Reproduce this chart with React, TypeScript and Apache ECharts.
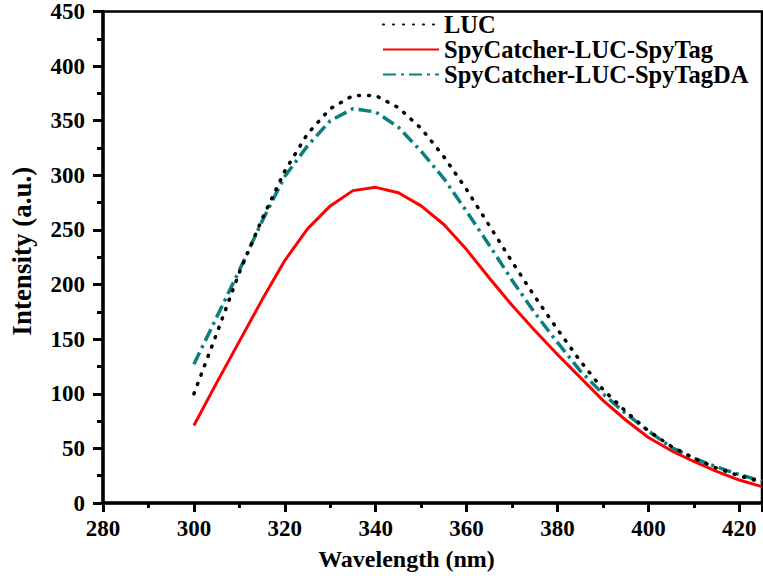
import React, { useEffect, useRef } from "react";
import * as echarts from "echarts";

const wavelengths = [300, 305, 310, 315, 320, 325, 330, 335, 340, 345, 350, 355, 360, 365, 370, 375, 380, 385, 390, 395, 400, 405, 410, 415, 420, 425];
const lucValues = [100, 155, 211, 260, 304, 338, 361, 373, 373, 362, 343, 317, 287, 254, 221, 189, 159, 130, 104, 84, 66, 52, 41, 32, 25, 19];
const spyTagValues = [71, 110, 148, 186, 222, 251, 272, 286, 289, 284, 272, 255, 232, 206, 181, 158, 136, 115, 94, 76, 60, 48, 38, 29, 21, 15];
const spyTagDAValues = [127, 170, 213, 258, 299, 327, 350, 361, 358, 344, 322, 297, 267, 236, 204, 174, 147, 121, 100, 82, 66, 51, 41, 33, 26, 20];
const seriesNames = ["LUC", "SpyCatcher-LUC-SpyTag", "SpyCatcher-LUC-SpyTagDA"];

const FONT = "'Times New Roman', 'Liberation Serif', serif";

export default function App() {
  const ref = useRef<HTMLDivElement>(null);
  useEffect(() => {
    if (!ref.current) return;
    const chart = echarts.init(ref.current, null, { renderer: "svg" });
    const pairs = (vals: number[]) => wavelengths.map((w, i) => [w, vals[i]]);
    const textBase = { fontFamily: FONT, fontWeight: "bold" as const, color: "#000" };
    chart.setOption({
      animation: false,
      grid: {
        left: 99,
        right: 1,
        top: 11,
        bottom: 78,
        show: true,
        borderColor: "#000",
        borderWidth: 2.5,
      },
      legend: {
        orient: "vertical",
        left: 377,
        top: 7,
        itemWidth: 56,
        itemHeight: 14,
        itemGap: 0,
        itemStyle: { opacity: 0 },
        textStyle: { ...textBase, fontSize: 24.5, lineHeight: 20 },
        data: seriesNames,
      },
      xAxis: {
        type: "value",
        min: 280,
        max: 425,
        interval: 20,
        name: "Wavelength (nm)",
        nameLocation: "middle",
        nameGap: 44,
        nameTextStyle: { ...textBase, fontSize: 24, padding: [0, 52, 0, 0] },
        axisLine: { lineStyle: { color: "#000", width: 3.5 } },
        axisTick: { inside: false, length: 9, lineStyle: { color: "#000", width: 3 } },
        minorTick: { show: true, splitNumber: 2, length: 5, lineStyle: { color: "#000", width: 3 } },
        axisLabel: { ...textBase, fontSize: 23, margin: 14, showMaxLabel: false },
        splitLine: { show: false },
      },
      yAxis: {
        type: "value",
        min: 0,
        max: 450,
        interval: 50,
        name: "Intensity (a.u.)",
        nameLocation: "middle",
        nameGap: 68,
        nameTextStyle: { ...textBase, fontSize: 27, padding: [0, 0, 0, 12] },
        axisLine: { show: true, lineStyle: { color: "#000", width: 3.5 } },
        axisTick: { show: true, inside: false, length: 10, lineStyle: { color: "#000", width: 3 } },
        minorTick: { show: true, splitNumber: 2, length: 6, lineStyle: { color: "#000", width: 3 } },
        axisLabel: { ...textBase, fontSize: 23, margin: 18 },
        splitLine: { show: false },
      },
      series: [
        {
          name: seriesNames[0],
          type: "line",
          data: pairs(lucValues),
          showSymbol: false,
          symbol: "none",
          lineStyle: { color: "#000", width: 3.5, type: [1, 9], cap: "round" },
          itemStyle: { color: "#000" },
          z: 3,
        },
        {
          name: seriesNames[1],
          type: "line",
          data: pairs(spyTagValues),
          showSymbol: false,
          symbol: "none",
          lineStyle: { color: "#ff0000", width: 3, type: "solid" },
          itemStyle: { color: "#ff0000" },
          z: 2,
        },
        {
          name: seriesNames[2],
          type: "line",
          data: pairs(spyTagDAValues),
          showSymbol: false,
          symbol: "none",
          lineStyle: { color: "#0a7f7f", width: 3.5, type: [13, 5, 3, 5] },
          itemStyle: { color: "#0a7f7f" },
          z: 2,
        },
      ],
    });
    return () => chart.dispose();
  }, []);
  return (
    <div
      ref={ref}
      style={{ position: "fixed", left: 0, top: 0, width: 763, height: 581, background: "#fff" }}
    />
  );
}
